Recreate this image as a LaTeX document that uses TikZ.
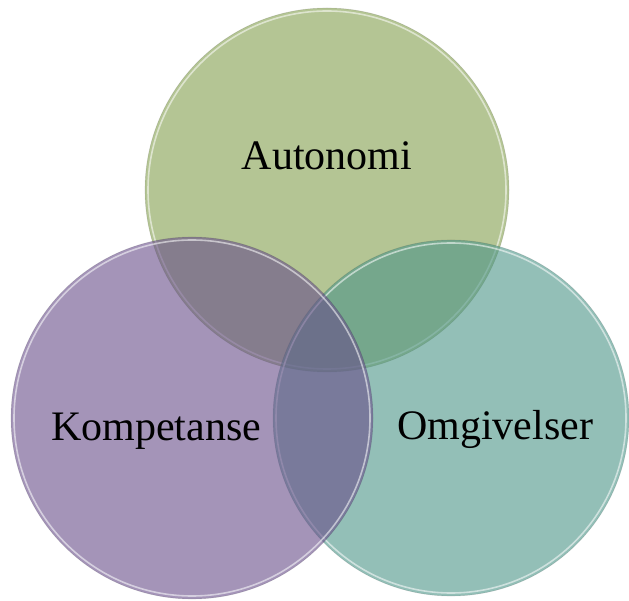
\documentclass[tikz,border=0pt]{standalone}
\usepackage{fontspec}
\setmainfont{Liberation Serif}
\definecolor{cgreen}{RGB}{180,197,148}
\definecolor{cpurple}{RGB}{103,77,137}
\definecolor{cteal}{RGB}{75,148,135}
\begin{document}
\begin{tikzpicture}[x=1pt,y=-1pt,
  bubble/.style={circle,inner sep=0pt,outer sep=0pt},
  rim/.style={draw=white,draw opacity=0.55,line width=1.6pt},
  edge/.style={draw=black,draw opacity=0.12,line width=0.6pt},
  lbl/.style={font=\fontsize{42}{46}\selectfont,text=black}]
\useasboundingbox (0,0) rectangle (629,601);
% circles
\node[bubble,minimum size=364pt,fill=cgreen,edge] (auto) at (327,190) {};
\draw[rim] (327,190) circle[radius=179];
\node[bubble,minimum size=356pt,fill=cteal,fill opacity=0.6,edge] (omg) at (451,418) {};
\draw[rim] (451,418) circle[radius=175];
\node[bubble,minimum size=362pt,fill=cpurple,fill opacity=0.6,edge] (komp) at (192,418) {};
\draw[rim] (192,418) circle[radius=178];
% labels
\node[lbl] (tauto) at (327,156) {Autonomi};
\node[lbl] (tkomp) at (156,431) {Kompetanse};
\node[lbl] (tomg) at (495,429) {Omgivelser};
\end{tikzpicture}
\end{document}
